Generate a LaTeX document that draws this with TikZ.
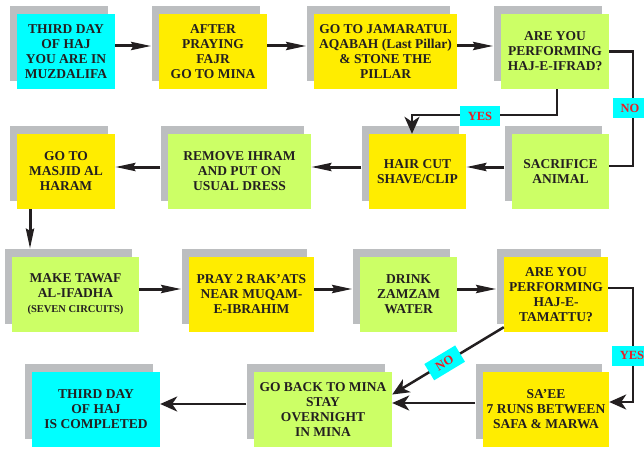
\documentclass[tikz,border=0pt]{standalone}
\usepackage{fontspec}
\setmainfont{Liberation Serif}
\usetikzlibrary{arrows.meta,shadows}
\definecolor{cy}{HTML}{00FFFF}
\definecolor{ye}{HTML}{FFED00}
\definecolor{gr}{HTML}{CCFF66}
\definecolor{sg}{HTML}{BCBEC0}
\definecolor{ink}{HTML}{231F20}
\definecolor{lbl}{HTML}{ED1C24}
\begin{document}
\begin{tikzpicture}[x=1pt,y=-1pt,
  box/.style={general shadow={fill=sg, shadow xshift=-7.5pt, shadow yshift=8pt},
    inner sep=0pt, align=center, text=ink,
    font=\fontsize{13.5}{15}\selectfont\bfseries, minimum height=75pt},
  rowarr/.style={draw=ink, line width=3pt, -{Stealth[length=20pt,width=8pt,inset=2pt]}},
  bigarr/.style={draw=ink, line width=2.5pt, -{Stealth[length=17pt,width=15pt,inset=5pt]}},
  conn/.style={draw=ink, line width=2.5pt},
  lab/.style={fill=cy, text=lbl, font=\fontsize{12.5}{13}\selectfont\bfseries,
    minimum width=40pt, minimum height=20pt, inner sep=1pt}]
\useasboundingbox (0,0) rectangle (644,449);
% row 1
\node[box, fill=cy, minimum width=98pt]  (n1) at (66,51.5)    {THIRD DAY\\OF HAJ\\YOU ARE IN\\MUZDALIFA};
\node[box, fill=ye, minimum width=108pt] (n2) at (213,51.5)   {AFTER\\PRAYING\\FAJR\\GO TO MINA};
\node[box, fill=ye, minimum width=143pt] (n3) at (385.5,51.5) {GO TO JAMARATUL\\AQABAH (Last Pillar)\\\& STONE THE\\PILLAR};
\node[box, fill=gr, minimum width=108pt] (n4) at (555,51.5)   {ARE YOU\\PERFORMING\\HAJ-E-IFRAD?};
% row 2
\node[box, fill=ye, minimum width=98pt]  (masjid) at (66,171.5)    {GO TO\\MASJID AL\\HARAM};
\node[box, fill=gr, minimum width=143pt] (remove) at (239.5,171.5) {REMOVE IHRAM\\AND PUT ON\\USUAL DRESS};
\node[box, fill=ye, minimum width=97pt]  (hair)   at (417.5,171.5) {HAIR CUT\\SHAVE/CLIP};
\node[box, fill=gr, minimum width=97pt]  (sacr)   at (560.5,171.5) {SACRIFICE\\ANIMAL};
% row 3
\node[box, fill=gr, minimum width=127pt] (tawaf)   at (75.5,294.5)  {MAKE TAWAF\\AL-IFADHA\\{\fontsize{10.5}{13}\selectfont (SEVEN CIRCUITS)}};
\node[box, fill=ye, minimum width=125pt] (pray)    at (251.5,294.5) {PRAY 2 RAK’ATS\\NEAR MUQAM-\\E-IBRAHIM};
\node[box, fill=gr, minimum width=97pt]  (drink)   at (408.5,294.5) {DRINK\\ZAMZAM\\WATER};
\node[box, fill=ye, minimum width=104pt] (tamattu) at (556,294.5)   {ARE YOU\\PERFORMING\\HAJ-E-\\TAMATTU?};
% row 4
\node[box, fill=cy, minimum width=128pt] (done)   at (96,409.5)  {THIRD DAY\\OF HAJ\\IS COMPLETED};
\node[box, fill=gr, minimum width=138pt] (goback) at (323,409.5) {GO BACK TO MINA\\STAY\\OVERNIGHT\\IN MINA};
\node[box, fill=ye, minimum width=126pt] (saee)   at (546,409.5) {SA’EE\\7 RUNS BETWEEN\\SAFA \& MARWA};
% row arrows
\draw[rowarr] ([yshift=5.5pt]n1.east) -- ([xshift=-7.5pt,yshift=5.5pt]n2.west);
\draw[rowarr] ([yshift=5.5pt]n2.east) -- ([xshift=-7.5pt,yshift=5.5pt]n3.west);
\draw[rowarr] ([yshift=5.5pt]n3.east) -- ([xshift=-7.5pt,yshift=5.5pt]n4.west);
\draw[rowarr] ([xshift=-7.5pt,yshift=4.5pt]sacr.west) -- ([yshift=4.5pt]hair.east);
\draw[rowarr] ([xshift=-7.5pt,yshift=4.5pt]hair.west) -- ([yshift=4.5pt]remove.east);
\draw[rowarr] ([xshift=-7.5pt,yshift=4.5pt]remove.west) -- ([yshift=4.5pt]masjid.east);
\coordinate (tt) at ([xshift=-45.5pt,yshift=8pt]tawaf.north);
\draw[rowarr] ([xshift=-36pt]masjid.south) -- (tt);
\draw[rowarr] ([yshift=5.5pt]tawaf.east) -- ([xshift=-7.5pt,yshift=5.5pt]pray.west);
\draw[rowarr] ([yshift=5.5pt]pray.east) -- ([xshift=-7.5pt,yshift=5.5pt]drink.west);
\draw[rowarr] ([yshift=5.5pt]drink.east) -- ([xshift=-7.5pt,yshift=5.5pt]tamattu.west);
% decisions
\draw[bigarr] ([xshift=2pt]n4.south) -- ++(0,26) -| ([xshift=-5.5pt]hair.north);
\node[lab] (yes1) at (480,116) {YES};
\draw[conn] (n4.east) -- ++(24,0) |- ([yshift=5.5pt]sacr.east);
\node[lab, minimum width=34pt] (no1) at (630,108.5) {NO};
\draw[bigarr] ([yshift=6.5pt]tamattu.east) -- ++(25,0) |- ([yshift=7.5pt]saee.east);
\node[lab] (yes2) at (632,355.5) {YES};
\draw[bigarr] ([yshift=5pt]tamattu.south west) -- node[lab, sloped, pos=0.53, minimum width=36pt, minimum height=19pt] (no2) {NO} ([yshift=15pt]goback.east);
% bottom arrows
\draw[bigarr] ([xshift=-7.5pt,yshift=6.5pt]saee.west) -- ([yshift=6.5pt]goback.east);
\draw[bigarr] ([xshift=-7.5pt,yshift=5.5pt]goback.west) -- ([yshift=5.5pt]done.east);
\end{tikzpicture}
\end{document}
